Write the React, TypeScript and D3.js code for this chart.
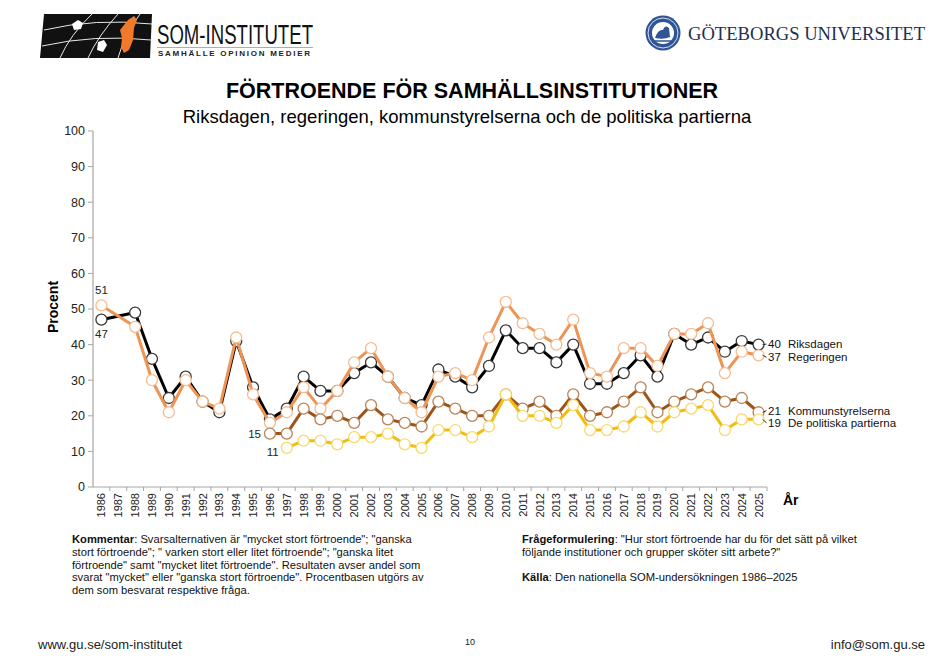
import { scaleBand, scaleLinear, line } from "d3"

const years = Array.from({ length: 40 }, (_, i) => String(1986 + i))

const riksdagen: (number | null)[] = [
  47, null, 49, 36, 25, 31, 24, 21, 41, 28,
  19, 22, 31, 27, 27, 32, 35, 31, 25, 23,
  33, 31, 28, 34, 44, 39, 39, 35, 40, 29,
  29, 32, 37, 31, 43, 40, 42, 38, 41, 40,
]
const regeringen: (number | null)[] = [
  51, null, 45, 30, 21, 30, 24, 22, 42, 26,
  18, 21, 28, 22, 27, 35, 39, 31, 25, 21,
  31, 32, 30, 42, 52, 46, 43, 40, 47, 32,
  31, 39, 39, 34, 43, 43, 46, 32, 38, 37,
]
const kommunstyrelserna: (number | null)[] = [
  null, null, null, null, null, null, null, null, null, null,
  15, 15, 22, 19, 20, 18, 23, 19, 18, 17,
  24, 22, 20, 20, 26, 22, 24, 20, 26, 20,
  21, 24, 28, 21, 24, 26, 28, 24, 25, 21,
]
const partierna: (number | null)[] = [
  null, null, null, null, null, null, null, null, null, null,
  null, 11, 13, 13, 12, 14, 14, 15, 12, 11,
  16, 16, 14, 17, 26, 20, 20, 18, 23, 16,
  16, 17, 21, 17, 21, 22, 23, 16, 19, 19,
]

const seriesNames = ["Riksdagen", "Regeringen", "Kommunstyrelserna", "De politiska partierna"]
const yTicks = [0, 10, 20, 30, 40, 50, 60, 70, 80, 90, 100]

const kommentar = [
  "Svarsalternativen är \"mycket stort förtroende\"; \"ganska",
  "stort förtroende\"; \" varken stort eller litet förtroende\"; \"ganska litet",
  "förtroende\" samt \"mycket litet förtroende\". Resultaten avser andel som",
  "svarat \"mycket\" eller \"ganska stort förtroende\". Procentbasen utgörs av",
  "dem som besvarat respektive fråga.",
]

const STYLES = [
  { line: "#000000", marker: "#3a3a3a", labelDy: -0.5 },
  { line: "#EE9455", marker: "#F6BC90", labelDy: 2 },
  { line: "#9C5418", marker: "#B98458", labelDy: -1.5 },
  { line: "#F2BC12", marker: "#F8D96A", labelDy: 3.5 },
]

const FONT = "'Liberation Sans', Arial, sans-serif"

function SomLogo() {
  return (
    <g>
      <path d="M44,14 L152,14 L150,58 L40,58 Z" fill="#111" />
      <g stroke="#fff" strokeWidth={1} fill="none" opacity={0.9}>
        <path d="M44,30 Q95,18 152,24" />
        <path d="M42,46 Q95,34 151,40" />
        <path d="M60,58 Q70,35 92,14" />
        <path d="M88,58 Q98,36 118,14" />
        <path d="M118,58 Q124,36 140,14" />
      </g>
      <path d="M72,24 l6,-4 l5,3 l-2,6 l-7,1 Z" fill="#fff" />
      <path d="M98,42 l6,-2 l3,5 l-4,7 l-6,-2 Z" fill="#fff" />
      <path d="M120,30 l8,-10 l6,-4 l3,4 l-3,8 l-1,12 l-4,10 l-5,3 l-3,-6 l1,-9 Z" fill="#F07A2A" />
      <text x={157} y={44} fontFamily="'Liberation Sans Narrow', 'Liberation Sans', Arial" fontSize={27} textLength={156} lengthAdjust="spacingAndGlyphs" fill="#111">
        SOM-INSTITUTET
      </text>
      <line x1={157} x2={313} y1={47.5} y2={47.5} stroke="#999" strokeWidth={0.8} />
      <text x={158} y={56} fontFamily={FONT} fontWeight="bold" fontSize={8} textLength={152} lengthAdjust="spacing" fill="#222">
        SAMHÄLLE OPINION MEDIER
      </text>
    </g>
  )
}

function GuLogo() {
  return (
    <g>
      <circle cx={663} cy={33} r={17.5} fill="#2F5597" />
      <circle cx={663} cy={33} r={15} fill="none" stroke="#fff" strokeWidth={0.8} />
      <circle cx={663} cy={33} r={11} fill="#fff" />
      <path d="M655,38 q3,-9 8,-8 q2,-6 6,-2 l1,9 q-6,3 -15,1 Z" fill="#2F5597" />
      <path d="M653,41 h20" stroke="#2F5597" strokeWidth={1.5} />
      <text x={688} y={40} fontFamily="'Liberation Serif', 'DejaVu Serif', serif" fontSize={19} textLength={237} lengthAdjust="spacingAndGlyphs" fill="#1F2F4F">
        GÖTEBORGS UNIVERSITET
      </text>
    </g>
  )
}

export default function App() {
  const W = 945
  const H = 662
  const left = 93
  const right = 767
  const top = 131
  const bottom = 487

  const x = scaleBand<string>().domain(years).range([left, right])
  const y = scaleLinear().domain([0, 100]).range([bottom, top])
  const cx = (i: number) => (x(years[i]) ?? 0) + x.bandwidth() / 2

  const all = [riksdagen, regeringen, kommunstyrelserna, partierna]

  const pts = (vals: (number | null)[]) =>
    vals
      .map((v, i) => (v == null ? null : ([cx(i), y(v)] as [number, number])))
      .filter((p): p is [number, number] => p !== null)

  const lineGen = line<[number, number]>()

  const last = years.length - 1

  return (
    <div style={{ position: "absolute", left: 0, top: 0 }}>
      <svg width={W} height={H} style={{ display: "block", background: "#fff" }}>
        <SomLogo />
        <GuLogo />

        <text x={472} y={98} textAnchor="middle" fontFamily={FONT} fontWeight="bold" fontSize={21.5} fill="#000">
          FÖRTROENDE FÖR SAMHÄLLSINSTITUTIONER
        </text>
        <text x={467} y={123} textAnchor="middle" fontFamily={FONT} fontSize={18.5} fill="#000">
          Riksdagen, regeringen, kommunstyrelserna och de politiska partierna
        </text>

        {/* y axis */}
        <line x1={left} x2={left} y1={top} y2={bottom} stroke="#A6A6A6" strokeWidth={1.2} />
        {yTicks.map((t) => (
          <g key={t}>
            <line x1={left - 5} x2={left} y1={y(t)} y2={y(t)} stroke="#A6A6A6" />
            <text x={85} y={y(t)} dy="0.35em" textAnchor="end" fontFamily={FONT} fontSize={12.5} fill="#222">
              {t}
            </text>
          </g>
        ))}
        <text transform="translate(58,307) rotate(-90)" textAnchor="middle" fontFamily={FONT} fontWeight="bold" fontSize={14} fill="#000">
          Procent
        </text>

        {/* x axis */}
        <line x1={left} x2={right} y1={bottom} y2={bottom} stroke="#A6A6A6" strokeWidth={1.2} />
        {years.map((yr) => (
          <line key={yr} x1={(x(yr) ?? 0) + x.bandwidth()} x2={(x(yr) ?? 0) + x.bandwidth()} y1={bottom} y2={bottom + 4} stroke="#A6A6A6" />
        ))}
        {years.map((yr, i) => (
          <text
            key={yr}
            transform={`translate(${cx(i) + 4},${bottom + 6}) rotate(-90)`}
            textAnchor="end"
            fontFamily={FONT}
            fontSize={11}
            fill="#222"
          >
            {yr}
          </text>
        ))}
        <text x={783} y={505} fontFamily={FONT} fontWeight="bold" fontSize={14} fill="#000">
          År
        </text>

        {/* series */}
        {all.map((vals, s) => {
          const p = pts(vals)
          const st = STYLES[s]
          return (
            <g key={s}>
              <path d={lineGen(p) ?? ""} fill="none" stroke={st.line} strokeWidth={3} strokeLinejoin="round" />
              {p.map(([px, py], i) => (
                <circle key={i} cx={px} cy={py} r={5.5} fill="#fff" stroke={st.marker} strokeWidth={1.3} />
              ))}
            </g>
          )
        })}

        {/* start labels */}
        <text x={cx(0)} y={y(regeringen[0]!) - 11} textAnchor="middle" fontFamily={FONT} fontSize={11.5} fill="#222">
          {regeringen[0]}
        </text>
        <text x={cx(0)} y={y(riksdagen[0]!) + 18} textAnchor="middle" fontFamily={FONT} fontSize={11.5} fill="#222">
          {riksdagen[0]}
        </text>
        <text x={cx(10) - 9} y={y(kommunstyrelserna[10]!)} dy="0.35em" textAnchor="end" fontFamily={FONT} fontSize={11.5} fill="#222">
          {kommunstyrelserna[10]}
        </text>
        <text x={cx(11) - 8} y={y(partierna[11]!) + 4} dy="0.35em" textAnchor="end" fontFamily={FONT} fontSize={11.5} fill="#222">
          {partierna[11]}
        </text>

        {/* end labels */}
        {all.map((vals, s) => {
          const v = vals[last] as number
          const ly = y(v) + STYLES[s].labelDy
          return (
            <g key={s} fontFamily={FONT} fontSize={11.5} fill="#111">
              <line x1={cx(last) + 4} x2={cx(last) + 8} y1={y(v)} y2={ly} stroke="#333" strokeWidth={1} />
              <text x={768} y={ly} dy="0.35em">{v}</text>
              <text x={788} y={ly} dy="0.35em">{seriesNames[s]}</text>
            </g>
          )
        })}

        {/* notes */}
        <g fontFamily={FONT} fontSize={11.2} fill="#111">
          {kommentar.map((l, i) => (
            <text key={i} x={72} y={543 + i * 12.8}>
              {i === 0 && <tspan fontWeight="bold">Kommentar</tspan>}
              {i === 0 ? ": " + l : l}
            </text>
          ))}
          <text x={522} y={543}>
            <tspan fontWeight="bold">Frågeformulering</tspan>: "Hur stort förtroende har du för det sätt på vilket
          </text>
          <text x={522} y={556}>följande institutioner och grupper sköter sitt arbete?"</text>
          <text x={522} y={581}>
            <tspan fontWeight="bold">Källa</tspan>: Den nationella SOM-undersökningen 1986–2025
          </text>
        </g>

        {/* footer */}
        <text x={38} y={649} fontFamily={FONT} fontSize={13} fill="#222">
          www.gu.se/som-institutet
        </text>
        <text x={470} y={645} textAnchor="middle" fontFamily={FONT} fontSize={9} fill="#222">
          10
        </text>
        <text x={925} y={649} textAnchor="end" fontFamily={FONT} fontSize={13} fill="#222">
          info@som.gu.se
        </text>
      </svg>
    </div>
  )
}
